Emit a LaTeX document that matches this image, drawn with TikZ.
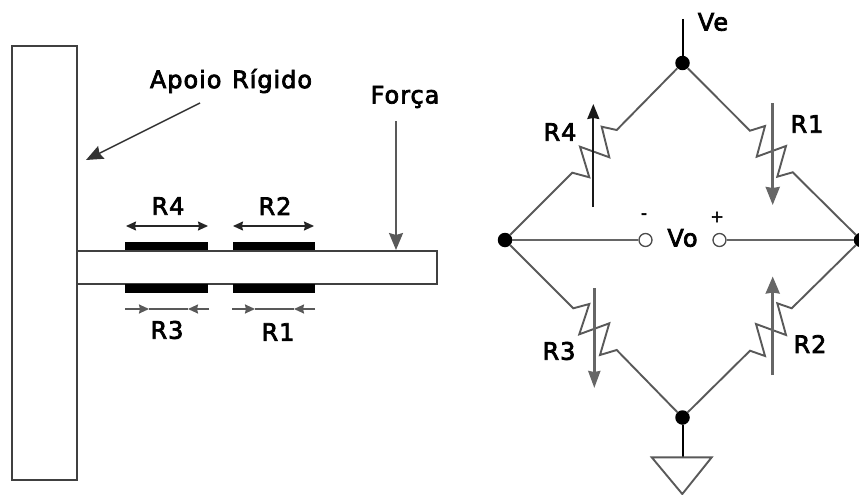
\documentclass[tikz,border=0pt]{standalone}
\usepackage{fontspec}
\setmainfont{DejaVu Sans}[BoldFont=DejaVu Sans,BoldFeatures={FakeBold=3},LetterSpace=4]
\usetikzlibrary{arrows.meta}
\tikzset{
  x=1pt,y=-1pt,
  wire/.style={draw=black!65,line width=1.9pt,line join=miter},
  thin wire/.style={draw=black!80,line width=1.5pt},
  outline/.style={draw=black!75,line width=2pt},
  pad/.style={fill=black,draw=none},
  bigtip/.style={-{Stealth[length=17pt,width=14pt,inset=2pt]}},
  smalltip/.style={-{Stealth[length=10pt,width=9pt,inset=1pt]}},
  bothtip/.style={{Stealth[length=10pt,width=9pt,inset=1pt]}-{Stealth[length=10pt,width=9pt,inset=1pt]},draw=black!85,line width=1.4pt},
  inward/.style={draw=black!65,line width=1.7pt},
  lbl/.style={inner sep=0pt,font=\fontsize{24}{26}\bfseries\selectfont},
  junction/.style={circle,fill=black,inner sep=0pt,minimum size=14.5pt},
  terminal/.style={circle,draw=black!70,fill=white,line width=1.3pt,inner sep=0pt,minimum size=13pt},
}
\begin{document}
\begin{tikzpicture}
\clip (0,0) rectangle (859,495);
\fill[white] (0,0) rectangle (859,495);
% left part
\draw[outline] (11.5,46) rectangle (76.5,480);
\draw[outline] (77,250.5) rectangle (437,284);
\fill[pad] (125,241.5) rectangle (208,250);
\fill[pad] (232.5,241.5) rectangle (315,250);
\fill[pad] (125,284) rectangle (208,292.5);
\fill[pad] (232.5,284) rectangle (315,292.5);
\coordinate (r4l) at (126,226); \coordinate (r4r) at (208,226);
\coordinate (r2l) at (233,226); \coordinate (r2r) at (314,226);
\draw[bothtip] (r4l) -- (r4r);
\draw[bothtip] (r2l) -- (r2r);
\coordinate (r3a) at (125,309); \coordinate (r3b) at (149,309);
\coordinate (r3c) at (188,309); \coordinate (r3d) at (209,309);
\coordinate (r1a) at (232,309); \coordinate (r1b) at (255,309);
\coordinate (r1c) at (294,309); \coordinate (r1d) at (315,309);
\draw[inward] (r3b) -- (r3c) (r1b) -- (r1c);
\draw[smalltip,inward] (r3a) -- (r3b);
\draw[smalltip,inward] (r3d) -- (r3c);
\draw[smalltip,inward] (r1a) -- (r1b);
\draw[smalltip,inward] (r1d) -- (r1c);
\node[lbl] (apoio) at (231,81) {Apoio\hspace{2pt} Rígido};
\node[lbl] (forca) at (405,97) {Força};
\node[lbl] (lr4) at (168,206) {R4};
\node[lbl] (lr2) at (275,206) {R2};
\node[lbl] (lr3) at (167,330) {R3};
\node[lbl] (lr1) at (278,332) {R1};
\coordinate (ap1) at (200,103); \coordinate (ap2) at (86,160);
\draw[thin wire,bigtip] (ap1) -- (ap2);
\coordinate (f1) at (396,121); \coordinate (f2) at (396,250);
\draw[wire,bigtip] (f1) -- (f2);
% bridge
\node[junction] (top) at (682.5,63) {};
\node[junction] (left) at (505,240) {};
\node[junction] (right) at (861,240) {};
\node[junction] (bot) at (682.5,417.5) {};
\node[terminal] (tm) at (645.5,240) {};
\node[terminal] (tp) at (719.5,240) {};
\coordinate (ve) at (682.5,19);
\coordinate (gnd) at (682.5,457);
\draw[draw=black,line width=2pt] (ve) -- (top);
\draw[draw=black,line width=2pt] (bot) -- (gnd);
\draw[draw=black!60,line width=2.4pt] (left) -- (tm);
\draw[draw=black!60,line width=2.4pt] (right) -- (tp);
\draw[wire] (top) -- (616.7,130) -- (601.7,126.7) -- (609.3,157.3) -- (580,146.7) -- (589.3,177.3) -- (572.3,172.7) -- (left);
\draw[wire] (top) -- (750,130.7) -- (765,126) -- (756.7,156.7) -- (786,146) -- (777.3,176.7) -- (792.7,172.3) -- (right);
\draw[wire] (left) -- (573.3,308.3) -- (589.3,304) -- (579.3,334.3) -- (609.3,323.3) -- (600,355) -- (616.7,350) -- (bot);
\draw[wire] (right) -- (791.7,308.3) -- (777.3,303.3) -- (786,335) -- (756,324) -- (765,356) -- (750,350.7) -- (bot);
\draw[draw=black!65,line width=1.9pt] (651.7,457.3) -- (711.7,457.3) -- (682.3,494) -- cycle;
\coordinate (a4a) at (593.3,207); \coordinate (a4b) at (593.3,104);
\coordinate (a1a) at (772.7,103); \coordinate (a1b) at (772.7,205);
\coordinate (a3a) at (594.3,288); \coordinate (a3b) at (594.3,388);
\coordinate (a2a) at (772.7,375); \coordinate (a2b) at (772.7,276.5);
\draw[draw=black!90,line width=1.7pt,-{Stealth[length=15pt,width=12pt,inset=1pt]}] (a4a) -- (a4b);
\draw[draw=black!60,line width=2.6pt,-{Stealth[length=18pt,width=14pt,inset=1pt]}] (a1a) -- (a1b);
\draw[draw=black!60,line width=2.6pt,-{Stealth[length=17pt,width=12pt,inset=1pt]}] (a3a) -- (a3b);
\draw[draw=black!60,line width=2.6pt,-{Stealth[length=17pt,width=14pt,inset=1pt]}] (a2a) -- (a2b);
\node[lbl] (lve) at (713,22) {Ve};
\node[lbl] (lvo) at (682.5,238) {Vo};
\node[lbl,font=\fontsize{16}{16}\bfseries\selectfont] (lm) at (644,216) {-};
\node[lbl,font=\fontsize{16}{16}\bfseries\selectfont] (lp) at (717,217) {+};
\node[lbl] (br4) at (560,132) {R4};
\node[lbl] (br1) at (807,124) {R1};
\node[lbl] (br3) at (559,351) {R3};
\node[lbl] (br2) at (810,344) {R2};
\end{tikzpicture}
\end{document}
